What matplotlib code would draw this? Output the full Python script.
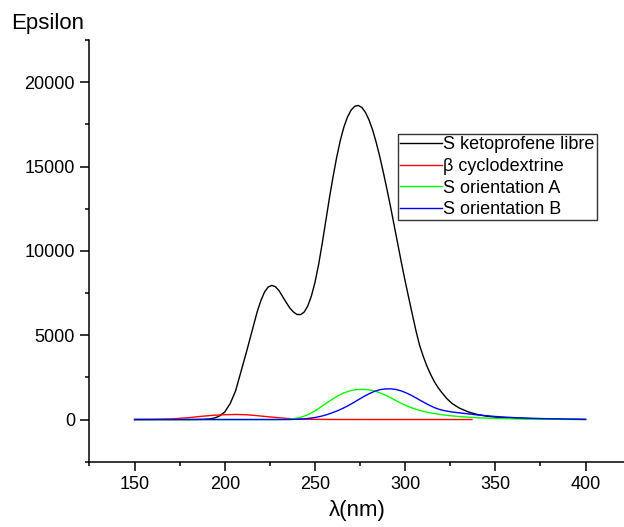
import matplotlib
matplotlib.use("Agg")
import matplotlib.pyplot as plt
from matplotlib.ticker import MultipleLocator

plt.rcParams['font.family'] = ['Liberation Sans', 'DejaVu Sans']

# values
x_black = [150, 160, 170, 180, 185, 188, 191, 194, 197, 200, 203, 206, 209, 212, 215, 218, 220,
           222, 224, 226, 228, 230, 232, 234, 236, 238, 240, 242, 244, 246, 248, 250, 252, 254,
           256, 258, 260, 262, 264, 266, 268, 270, 272, 274, 276, 278, 280, 282, 284, 286, 288,
           290, 292, 294, 296, 298, 300, 302, 304, 306, 308, 310, 312, 314, 316, 318, 320, 323,
           326, 330, 335, 340, 345, 350, 360, 370, 380, 390, 400]
y_black = [0, 0, 0, 0, 5, 15, 35, 80, 200, 450, 950, 1700, 2850, 4000, 5200, 6400, 7050,
           7550, 7850, 7950, 7880, 7650, 7300, 6950, 6620, 6380, 6230, 6220, 6370, 6730, 7320, 8130, 9180, 10430,
           11780, 13130, 14380, 15530, 16530, 17330, 17930, 18340, 18570, 18620, 18500, 18200, 17750, 17150, 16400, 15550, 14600,
           13600, 12550, 11450, 10350, 9250, 8200, 7200, 6220, 5250, 4400, 3750, 3180, 2700, 2280, 1930, 1640, 1250,
           950, 680, 450, 300, 200, 140, 80, 50, 30, 15, 5]

x_red = [150, 160, 170, 180, 187, 194, 200, 206, 212, 218, 224, 230, 236, 242, 250, 260, 280, 337]
y_red = [0, 5, 35, 110, 190, 255, 285, 300, 285, 230, 165, 105, 55, 25, 10, 3, 0, 0]

x_green = [150, 230, 233, 236, 239, 242, 245, 248, 251, 254, 257, 260, 263, 266, 269, 272, 275, 278,
           281, 284, 287, 290, 293, 296, 299, 302, 305, 308, 311, 315, 320, 325, 330, 340, 350, 360,
           370, 380, 390, 400]
y_green = [0, 0, 8, 25, 60, 130, 240, 390, 580, 800, 1020, 1230, 1420, 1580, 1690, 1760, 1785, 1780,
           1740, 1660, 1540, 1400, 1230, 1060, 900, 760, 640, 540, 460, 375, 290, 225, 175, 105, 65, 40,
           25, 15, 8, 4]

x_blue = [150, 235, 238, 241, 244, 247, 250, 253, 256, 259, 262, 265, 268, 271, 274, 277, 280, 283,
          286, 289, 292, 295, 298, 301, 304, 307, 310, 313, 316, 319, 322, 326, 330, 335, 340, 350,
          360, 370, 380, 390, 400]
y_blue = [0, 0, 8, 20, 40, 75, 120, 185, 270, 380, 500, 640, 800, 980, 1170, 1360, 1530, 1670,
          1770, 1815, 1820, 1780, 1690, 1560, 1400, 1220, 1040, 870, 715, 600, 520, 445, 395, 335, 275, 180,
          115, 75, 45, 25, 10]

labels = ['S ketoprofene libre', 'β cyclodextrine', 'S orientation A', 'S orientation B']

fig = plt.figure(figsize=(6.24, 5.27), dpi=100)
ax = fig.add_axes([0.1434, 0.1239, 0.8566, 0.8002])

ax.plot(x_black, y_black, color='black', lw=1.0, label=labels[0])
ax.plot(x_red, y_red, color='red', lw=1.0, label=labels[1])
ax.plot(x_green, y_green, color='#00ff00', lw=1.0, label=labels[2])
ax.plot(x_blue, y_blue, color='blue', lw=1.0, label=labels[3])

ax.set_xlim(125, 421.3)
ax.set_ylim(-2500, 22500)
ax.xaxis.set_major_locator(MultipleLocator(50))
ax.xaxis.set_minor_locator(MultipleLocator(25))
ax.yaxis.set_major_locator(MultipleLocator(5000))
ax.yaxis.set_minor_locator(MultipleLocator(2500))

for s in ['top', 'right']:
    ax.spines[s].set_visible(False)
for s in ['left', 'bottom']:
    ax.spines[s].set_linewidth(1.1)

ax.tick_params(which='major', length=6.5, width=1.1, labelsize=13, pad=4)
ax.tick_params(which='minor', length=3, width=1.1)

fig.text(11 / 624, 1 - 29 / 527, 'Epsilon', fontsize=16, va='baseline', ha='left')
fig.text(357 / 624, 1 - 516 / 527, 'λ(nm)', fontsize=16, va='baseline', ha='center')

leg = ax.legend(loc='upper left', bbox_to_anchor=(0.577, 0.777), borderaxespad=0,
                fontsize=13, frameon=True, fancybox=False, borderpad=0.12,
                handlelength=2.3, handletextpad=0.1, labelspacing=0.26)
leg.get_frame().set_edgecolor('black')
leg.get_frame().set_linewidth(1.0)

fig.savefig('out.png', dpi=100)
